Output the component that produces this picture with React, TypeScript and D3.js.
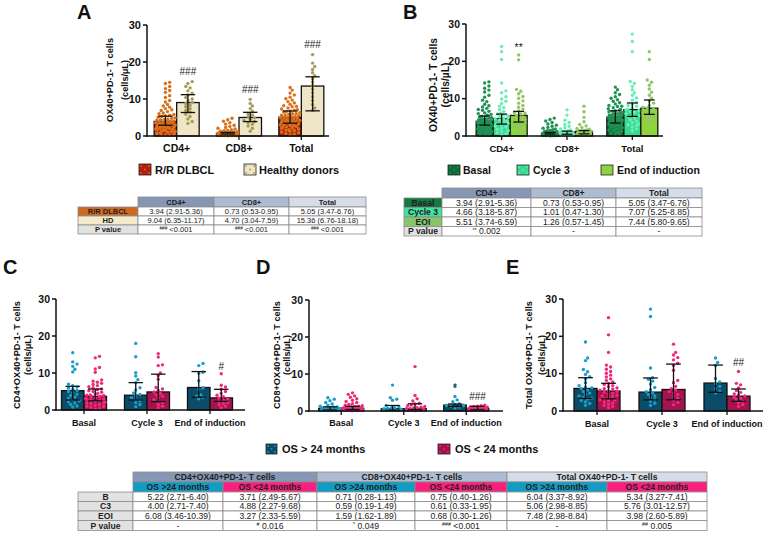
import React, { useEffect } from "react";
import * as d3 from "d3";

const FONT = "'Liberation Sans', Arial, Helvetica, sans-serif";

// ---------- Panel A data ----------
const A_CATS = ["CD4+", "CD8+", "Total"];
const A_NAMES = ["R/R DLBCL", "Healthy donors"];
const A_RR_MED = [3.94, 0.73, 5.05];
const A_RR_LO = [2.91, 0.53, 3.47];
const A_RR_HI = [5.36, 0.95, 6.76];
const A_HD_MED = [9.04, 5.0, 13.5];
const A_HD_LO = [6.35, 3.9, 6.8];
const A_HD_HI = [11.17, 6.4, 16.0];
const A_RR_CD4 = [14.5, 14.2, 13.4, 12.8, 12.3, 11.8, 10.9, 10.4, 9.6, 9.2, 8.5, 8.1, 7.8, 7.4, 7.1, 6.9, 6.6, 6.2, 6.0, 5.8, 5.6, 5.3, 5.1, 4.9, 4.8, 4.6, 4.4, 4.3, 4.1, 3.9, 3.8, 3.7, 3.5, 3.4, 3.3, 3.1, 3.0, 2.9, 2.7, 2.6, 2.5, 2.4, 2.2, 2.1, 2.0, 1.9, 1.7, 1.6, 1.5, 1.4, 1.2, 1.1, 1.0, 0.9, 0.7, 0.6, 0.5, 0.4, 0.3, 0.2, 2.8, 3.6, 4.5, 1.8, 2.3, 0.8, 5.5, 3.2, 1.3, 4.0];
const A_HD_CD4 = [14.7, 14.2, 13.4, 13.0, 12.2, 11.6, 11.1, 10.4, 10.0, 9.6, 9.1, 8.8, 8.3, 7.9, 7.4, 6.9, 6.5, 5.9, 5.3, 4.6, 3.9, 3.4];
const A_RR_CD8 = [4.8, 4.4, 4.0, 3.6, 3.2, 2.9, 2.6, 2.3, 2.1, 1.9, 1.7, 1.5, 1.4, 1.3, 1.2, 1.1, 1.0, 0.95, 0.9, 0.85, 0.8, 0.75, 0.7, 0.7, 0.65, 0.6, 0.6, 0.55, 0.5, 0.5, 0.45, 0.4, 0.4, 0.35, 0.3, 0.3, 0.25, 0.2, 0.2, 0.15, 0.1, 0.1, 0.05, 0.6, 0.4, 0.3, 0.8, 0.2, 0.5, 0.7, 0.1, 0.3, 0.45, 0.55, 0.35, 0.25, 0.15, 0.9, 1.05, 0.65];
const A_HD_CD8 = [9.9, 8.8, 8.1, 7.4, 6.7, 6.1, 5.7, 5.2, 4.9, 4.5, 4.2, 3.9, 3.6, 3.2, 2.7, 2.1, 1.3];
const A_RR_TOT = [13.1, 12.4, 11.6, 11.1, 10.5, 10.1, 9.7, 9.3, 8.9, 8.6, 8.2, 7.9, 7.6, 7.3, 7.0, 6.8, 6.5, 6.3, 6.1, 5.9, 5.7, 5.5, 5.3, 5.1, 5.0, 4.8, 4.7, 4.5, 4.3, 4.2, 4.0, 3.9, 3.7, 3.6, 3.4, 3.3, 3.1, 3.0, 2.8, 2.6, 2.5, 2.3, 2.1, 1.9, 1.7, 1.5, 1.3, 1.1, 0.9, 0.7, 0.5, 0.3, 5.2, 4.4, 3.8, 6.0, 2.9, 7.1, 4.9, 5.6, 3.5, 2.2, 8.0, 6.6, 4.1, 1.6];
const A_HD_TOT = [22.0, 19.7, 18.8, 18.0, 17.1, 16.3, 15.5, 14.6, 13.7, 12.7, 11.7, 10.6, 9.6, 8.5, 7.6, 6.9];

// ---------- Panel B data ----------
const B_NAMES = ["Basal", "Cycle 3", "End of induction"];
const B_BAS_MED = [3.94, 0.73, 5.05];
const B_BAS_LO = [2.91, 0.53, 3.47];
const B_BAS_HI = [5.36, 0.95, 6.76];
const B_C3_MED = [4.66, 1.01, 7.07];
const B_C3_LO = [3.18, 0.47, 5.25];
const B_C3_HI = [5.87, 1.30, 8.85];
const B_EOI_MED = [5.51, 1.26, 7.44];
const B_EOI_LO = [3.74, 0.57, 5.80];
const B_EOI_HI = [6.59, 1.45, 9.65];
const B_C3_CD4 = [24.0, 22.6, 20.5, 14.2, 12.1, 11.6, 10.5, 9.9, 9.3, 8.7, 8.0, 7.6, 7.1, 6.6, 6.2, 5.9, 5.6, 5.2, 4.9, 4.6, 4.3, 4.0, 3.8, 3.5, 3.2, 3.0, 2.7, 2.4, 2.1, 1.8, 1.5, 1.2, 0.9, 0.6, 4.7, 3.4, 2.6, 5.4, 1.4, 0.3];
const B_EOI_CD4 = [21.7, 20.4, 12.5, 12.0, 11.3, 10.6, 10.1, 9.4, 8.8, 8.2, 7.7, 7.2, 6.7, 6.3, 5.9, 5.5, 5.1, 4.8, 4.4, 4.0, 3.7, 3.4, 3.1, 2.8, 2.4, 2.0, 1.6, 1.0, 6.1, 3.9];
const B_C3_CD8 = [7.0, 5.6, 4.2, 3.6, 3.1, 2.6, 2.2, 1.9, 1.6, 1.4, 1.2, 1.0, 0.9, 0.8, 0.7, 0.6, 0.5, 0.45, 0.4, 0.35, 0.3, 0.25, 0.2, 0.15, 0.1, 0.5, 0.3, 0.7, 1.1, 0.2];
const B_EOI_CD8 = [8.0, 6.5, 5.0, 3.8, 3.1, 2.7, 2.3, 2.0, 1.8, 1.6, 1.5, 1.4, 1.3, 1.2, 1.1, 1.0, 0.9, 0.8, 0.7, 0.6, 0.5, 0.4, 0.3, 1.25, 1.35];
const B_C3_TOT = [27.3, 25.3, 22.6, 14.6, 14.1, 13.3, 12.4, 11.6, 10.9, 10.2, 9.6, 9.0, 8.5, 8.0, 7.6, 7.2, 6.8, 6.4, 6.0, 5.6, 5.2, 4.8, 4.4, 4.0, 3.6, 3.2, 2.8, 2.4, 1.9, 1.4, 7.0, 5.4, 8.2, 3.0, 6.6];
const B_EOI_TOT = [22.6, 20.5, 15.0, 14.4, 13.6, 12.6, 11.7, 10.9, 10.1, 9.4, 8.8, 8.2, 7.7, 7.2, 6.8, 6.3, 5.8, 5.3, 4.8, 4.3, 3.8, 3.3, 7.5, 6.0, 4.5];

// ---------- Panels C/D/E data ----------
const OS_CATS = ["Basal", "Cycle 3", "End of induction"];
const OS_NAMES = ["OS > 24 months", "OS < 24 months"];
const C_HI_MED = [5.22, 4.00, 6.08];
const C_HI_LO = [2.71, 2.71, 3.46];
const C_HI_HI = [6.40, 7.40, 10.39];
const C_LO_MED = [3.71, 4.88, 3.27];
const C_LO_LO = [2.49, 2.27, 2.33];
const C_LO_HI = [5.67, 9.68, 5.59];
const D_HI_MED = [0.71, 0.59, 1.59];
const D_HI_LO = [0.28, 0.19, 1.2];
const D_HI_HI = [1.13, 1.49, 1.89];
const D_LO_MED = [0.75, 0.61, 0.68];
const D_LO_LO = [0.40, 0.33, 0.30];
const D_LO_HI = [1.26, 1.95, 1.26];
const E_HI_MED = [6.04, 5.06, 7.48];
const E_HI_LO = [3.37, 2.98, 5.0];
const E_HI_HI = [8.92, 8.85, 12.3];
const E_LO_MED = [5.34, 5.76, 3.98];
const E_LO_LO = [3.27, 3.01, 2.60];
const E_LO_HI = [7.41, 12.57, 5.89];

const C_BAS_HI = [15.5, 13.0, 12.4, 11.8, 11.0, 10.3, 7.0, 6.6, 6.2, 5.9, 5.6, 5.3, 5.0, 4.7, 4.3, 3.9, 3.5, 3.1, 2.8, 2.5, 2.2, 1.9, 1.5, 1.1, 0.8];
const C_BAS_LO = [14.5, 14.1, 11.5, 11.1, 10.2, 8.1, 7.8, 7.5, 7.2, 6.9, 6.6, 6.3, 6.0, 5.7, 5.5, 5.2, 5.0, 4.8, 4.5, 4.3, 4.1, 3.9, 3.7, 3.5, 3.3, 3.1, 2.9, 2.7, 2.5, 2.3, 2.1, 1.9, 1.7, 1.5, 1.3, 1.1, 0.9, 0.7, 0.5, 0.3, 3.0, 2.0, 4.0, 1.0, 3.6];
const C_C3_HI = [18.0, 14.4, 10.1, 9.2, 8.2, 7.4, 6.0, 5.4, 4.6, 4.2, 3.8, 3.3, 2.9, 2.5, 2.0, 1.5, 0.9];
const C_C3_LO = [15.2, 14.3, 12.2, 12.0, 10.0, 9.3, 8.3, 6.1, 5.7, 5.3, 4.9, 4.5, 4.1, 3.7, 3.3, 2.8, 2.4, 2.0, 1.5, 1.0, 0.6];
const C_EOI_HI = [12.6, 12.0, 10.2, 9.9, 7.9, 6.0, 5.6, 4.1, 3.7, 3.4, 3.0];
const C_EOI_LO = [9.8, 6.7, 6.2, 5.6, 5.0, 4.5, 4.0, 3.6, 3.2, 2.9, 2.6, 2.3, 2.0, 1.7, 1.4, 1.0, 0.6];
const D_BAS_HI = [3.6, 3.2, 2.8, 2.3, 1.9, 1.6, 1.3, 1.1, 0.9, 0.8, 0.7, 0.6, 0.5, 0.4, 0.35, 0.3, 0.25, 0.2, 0.15, 0.1, 0.5, 0.6, 0.3, 1.0];
const D_BAS_LO = [4.9, 4.5, 4.1, 3.7, 3.3, 2.9, 2.6, 2.3, 2.0, 1.8, 1.6, 1.4, 1.3, 1.2, 1.1, 1.0, 0.9, 0.85, 0.8, 0.75, 0.7, 0.65, 0.6, 0.55, 0.5, 0.45, 0.4, 0.35, 0.3, 0.25, 0.2, 0.15, 0.1, 0.6, 0.4, 0.7, 0.3, 0.5, 0.2, 0.9];
const D_C3_HI = [7.0, 3.6, 3.2, 2.9, 1.5, 1.2, 0.9, 0.7, 0.5, 0.4, 0.3, 0.2, 0.15, 0.1, 0.6, 0.8];
const D_C3_LO = [12.0, 4.2, 3.3, 2.7, 2.1, 1.9, 1.6, 1.4, 1.2, 1.0, 0.9, 0.8, 0.7, 0.6, 0.5, 0.4, 0.3, 0.2, 0.1, 0.5];
const D_EOI_HI = [6.6, 3.9, 3.0, 2.5, 2.0, 1.8, 1.6, 1.5, 1.4, 1.3, 1.0, 0.8];
const D_EOI_LO = [1.6, 1.4, 1.3, 1.2, 1.1, 1.0, 0.9, 0.8, 0.7, 0.6, 0.5, 0.4, 0.3, 0.2, 0.7, 0.6, 0.5];
const E_BAS_HI = [18.5, 14.2, 13.5, 11.1, 10.5, 9.8, 9.2, 8.6, 7.6, 6.8, 6.4, 6.0, 5.6, 5.2, 4.8, 4.4, 4.0, 3.6, 3.2, 2.8, 2.4, 2.0, 1.5, 6.2, 3.4];
const E_BAS_LO = [25.0, 20.4, 15.7, 12.3, 11.8, 11.2, 10.6, 10.1, 9.6, 9.1, 8.6, 8.2, 7.8, 7.4, 7.1, 6.8, 6.5, 6.2, 5.9, 5.6, 5.3, 5.0, 4.8, 4.5, 4.2, 3.9, 3.6, 3.3, 3.0, 2.7, 2.4, 2.1, 1.8, 1.5, 1.2, 0.9, 5.4, 4.0, 6.0, 2.9];
const E_C3_HI = [27.3, 25.3, 11.5, 8.9, 8.5, 8.0, 7.2, 6.3, 5.7, 5.2, 4.8, 4.4, 4.0, 3.6, 3.1, 2.6, 2.1, 1.5];
const E_C3_LO = [17.9, 15.7, 15.0, 14.3, 13.7, 12.8, 12.2, 10.9, 8.2, 7.6, 6.6, 6.0, 5.6, 5.2, 4.8, 4.4, 3.9, 3.4, 2.9, 2.3, 1.7];
const E_EOI_HI = [14.2, 13.0, 12.2, 8.7, 7.8, 7.3, 6.6, 6.0, 5.3, 4.8];
const E_EOI_LO = [10.6, 7.4, 7.0, 6.2, 5.5, 5.0, 4.6, 4.3, 4.0, 3.7, 3.4, 3.0, 2.6, 2.2, 1.7, 1.2];

const Y_TICKS = [0, 10, 20, 30];

// ---------- Table data ----------
const TA_HEAD = ["CD4+", "CD8+", "Total"];
const TA_ROWS = ["R/R DLBCL", "HD", "P value"];
const TA_CELLS = [
  ["3.94 (2.91-5.36)", "0.73 (0.53-0.95)", "5.05 (3.47-6.76)"],
  ["9.04 (6.35-11.17)", "4.70 (3.04-7.59)", "15.36 (6.76-18.18)"],
  ["### <0.001", "### <0.001", "### <0.001"],
];
const TB_HEAD = ["CD4+", "CD8+", "Total"];
const TB_ROWS = ["Basal", "Cycle 3", "EOI", "P value"];
const TB_CELLS = [
  ["3.94 (2.91-5.36)", "0.73 (0.53-0.95)", "5.05 (3.47-6.76)"],
  ["4.66 (3.18-5.87)", "1.01 (0.47-1.30)", "7.07 (5.25-8.85)"],
  ["5.51 (3.74-6.59)", "1.26 (0.57-1.45)", "7.44 (5.80-9.65)"],
  ["** 0.002", "-", "-"],
];
const TC_HEAD1 = ["CD4+OX40+PD-1- T cells", "CD8+OX40+PD-1- T cells", "Total OX40+PD-1- T cells"];
const TC_HEAD2 = ["OS >24 months", "OS <24 months"];
const TC_ROWS = ["B", "C3", "EOI", "P value"];
const TC_CELLS = [
  ["5.22 (2.71-6.40)", "3.71 (2.49-5.67)", "0.71 (0.28-1.13)", "0.75 (0.40-1.26)", "6.04 (3.37-8.92)", "5.34 (3.27-7.41)"],
  ["4.00 (2.71-7.40)", "4.88 (2.27-9.68)", "0.59 (0.19-1.49)", "0.61 (0.33-1.95)", "5.06 (2.98-8.85)", "5.76 (3.01-12.57)"],
  ["6.08 (3.46-10.39)", "3.27 (2.33-5.59)", "1.59 (1.62-1.89)", "0.68 (0.30-1.26)", "7.48 (2.98-8.84)", "3.98 (2.60-5.89)"],
  ["-", "# 0.016", "* 0.049", "### <0.001", "-", "## 0.005"],
];

// ---------- colours ----------
const COL = {
  rr: "#b3200e", rrDot: "#d8701c",
  hd: "#eee6c6", hdDot: "#a89a55",
  bas: "#0c6b39", basDot: "#1f9152",
  c3: "#38d893", c3Dot: "#68eeb6",
  eoi: "#8ed53c", eoiDot: "#93c662",
  hi: "#0b4d68", hiDot: "#1b9dc6",
  lo: "#a3134f", loDot: "#ee2a7b",
};

type Series = { fill: string; dot: string; med: number[]; lo: number[]; hi: number[]; pts: number[][] };
type Note = { ci: number; si: number; text: string; y: number; size: number };
type Cfg = {
  axisX: number; y0: number; y30: number; xEnd: number; band: [number, number]; barW: number;
  cats: string[]; series: Series[]; tickFont: number; catFont: number; catY: number;
  title: string[]; titleX: number[]; titleY: number; titleFont: number; notes: Note[];
};

const DOT_R = 1.7;

function swarm(vals: number[], y: (v: number) => number, cx: number, half: number, r: number) {
  const items = vals.map((v) => ({ v, py: y(v) })).sort((a, b) => b.py - a.py);
  const placed: { x: number; y: number }[] = [];
  const step = r * 1.25;
  const minD = r * 1.9;
  items.forEach((it, i) => {
    let px: number | null = null;
    const maxK = Math.floor(half / step);
    for (let k = 0; k <= maxK * 2; k++) {
      const off = (k % 2 === 1 ? 1 : -1) * Math.ceil(k / 2) * step;
      const x = cx + off;
      if (placed.every((q) => (q.x - x) ** 2 + (q.y - it.py) ** 2 >= minD * minD)) { px = x; break; }
    }
    if (px === null) {
      const f = ((i * 37) % 17) / 16;
      px = cx - half + f * 2 * half;
    }
    placed.push({ x: px, y: it.py });
  });
  return placed;
}

function BarPanel({ cfg }: { cfg: Cfg }) {
  const y = d3.scaleLinear().domain([0, 30]).range([cfg.y0, cfg.y30]);
  const xb = d3.scaleBand<string>().domain(cfg.cats).range(cfg.band);
  const cx = (ci: number) => (xb(cfg.cats[ci]) ?? 0) + xb.bandwidth() / 2;
  const n = cfg.series.length;
  const off = (si: number) => (si - (n - 1) / 2) * cfg.barW;
  const bw = cfg.barW;
  const cap = bw * 0.32;
  return (
    <g fontFamily={FONT}>
      {cfg.series.map((s, si) =>
        cfg.cats.map((c, ci) => {
          const bx = cx(ci) + off(si);
          return (
            <rect key={`b${si}-${ci}`} x={bx - bw / 2} y={y(s.med[ci])} width={bw}
              height={cfg.y0 - y(s.med[ci])} fill={s.fill} stroke="#111" strokeWidth={1.3} />
          );
        })
      )}
      {cfg.series.map((s, si) =>
        cfg.cats.map((c, ci) => {
          const bx = cx(ci) + off(si);
          const pts = swarm(s.pts[ci], y, bx, bw / 2 - 1.5, DOT_R);
          return pts.map((p, k) => (
            <circle key={`d${si}-${ci}-${k}`} cx={p.x} cy={p.y} r={DOT_R} fill={s.dot} />
          ));
        })
      )}
      {cfg.series.map((s, si) =>
        cfg.cats.map((c, ci) => {
          const bx = cx(ci) + off(si);
          const yl = y(s.lo[ci]);
          const yh = y(s.hi[ci]);
          return (
            <g key={`e${si}-${ci}`} stroke="#111" strokeWidth={1.3}>
              <line x1={bx} x2={bx} y1={yl} y2={yh} />
              <line x1={bx - cap} x2={bx + cap} y1={yh} y2={yh} />
              <line x1={bx - cap} x2={bx + cap} y1={yl} y2={yl} />
            </g>
          );
        })
      )}
      {/* axes */}
      <line x1={cfg.axisX} x2={cfg.axisX} y1={cfg.y0 + 0.7} y2={y(30)} stroke="#111" strokeWidth={1.5} />
      <line x1={cfg.axisX - 0.7} x2={cfg.xEnd} y1={cfg.y0} y2={cfg.y0} stroke="#111" strokeWidth={1.5} />
      {Y_TICKS.map((t) => (
        <g key={`t${t}`}>
          <line x1={cfg.axisX - 4} x2={cfg.axisX} y1={y(t)} y2={y(t)} stroke="#111" strokeWidth={1.5} />
          <text x={cfg.axisX - 6} y={y(t)} dy="0.36em" textAnchor="end" fontSize={cfg.tickFont} fontWeight="bold" fill="#111">{t}</text>
        </g>
      ))}
      {cfg.cats.map((c, ci) => (
        <g key={`c${ci}`}>
          <line x1={cx(ci)} x2={cx(ci)} y1={cfg.y0} y2={cfg.y0 + 4} stroke="#111" strokeWidth={1.3} />
          <text x={cx(ci)} y={cfg.catY} textAnchor="middle" fontSize={cfg.catFont} fontWeight="bold" fill="#111">{c}</text>
        </g>
      ))}
      {cfg.title.map((t, i) => (
        <text key={`ti${i}`} transform={`translate(${cfg.titleX[i]},${cfg.titleY}) rotate(-90)`}
          textAnchor="middle" dy="0.35em" fontSize={cfg.titleFont} fontWeight="bold" fill="#111">{t}</text>
      ))}
      {cfg.notes.map((nt, i) => (
        <text key={`n${i}`} x={cx(nt.ci) + off(nt.si)} y={nt.y} textAnchor="middle" fontSize={nt.size} fill="#222">{nt.text}</text>
      ))}
    </g>
  );
}

function Swatch({ x, y, w, h, fill, dot }: { x: number; y: number; w: number; h: number; fill: string; dot: string }) {
  const ds: [number, number][] = [];
  for (let i = 0; i < 3; i++) for (let j = 0; j < 3; j++) ds.push([x + 2 + i * (w - 4) / 2, y + 2 + j * (h - 4) / 2]);
  return (
    <g>
      <rect x={x} y={y} width={w} height={h} fill={fill} stroke="#222" strokeWidth={0.8} />
      {ds.map((d, k) => ((k % 2 === 0) ? <rect key={k} x={d[0] - 0.8} y={d[1] - 0.8} width={1.6} height={1.6} fill={dot} /> : null))}
    </g>
  );
}

function CellText({ x, y, text, size, bold }: { x: number; y: number; text: string; size: number; bold?: boolean }) {
  const m = text.match(/^([#*]+) (.*)$/);
  if (m) {
    return (
      <text x={x} y={y} textAnchor="middle" fontSize={size} fontWeight={bold ? "bold" : "normal"} fill="#222">
        <tspan fontSize={size * 0.62} dy={-size * 0.25}>{m[1]}</tspan>
        <tspan dy={size * 0.25}>{" " + m[2]}</tspan>
      </text>
    );
  }
  return <text x={x} y={y} textAnchor="middle" fontSize={size} fontWeight={bold ? "bold" : "normal"} fill="#222">{text}</text>;
}

function Cell({ x0, x1, y0, y1, text, fill, bold, size }: { x0: number; x1: number; y0: number; y1: number; text: string; fill: string; bold?: boolean; size: number }) {
  return (
    <g>
      <rect x={x0} y={y0} width={x1 - x0} height={y1 - y0} fill={fill} stroke="#8c8c8c" strokeWidth={0.8} />
      <CellText x={(x0 + x1) / 2} y={(y0 + y1) / 2 + size * 0.36} text={text} size={size} bold={bold} />
    </g>
  );
}

const TA_HEAD_FILL = ["#8597b4", "#aebcd1", "#d6dde8"];
const TA_ROW_FILL = ["#cf6a20", "#f3ebcb", "#e2e2e2"];
const TB_ROW_FILL = ["#127a40", "#45e0a0", "#86c66a", "#e2e2e2"];
const OS_HEAD_FILL = ["#0f9dc5", "#fd1f7d"];

function SimpleTable({ cols, rows, head, rowLabels, rowFill, cells, size }: any) {
  const out: any[] = [];
  head.forEach((h: string, j: number) => {
    out.push(<Cell key={`h${j}`} x0={cols[j + 1]} x1={cols[j + 2]} y0={rows[0]} y1={rows[1]} text={h} fill={TA_HEAD_FILL[j]} bold size={size} />);
  });
  rowLabels.forEach((r: string, i: number) => {
    out.push(<Cell key={`r${i}`} x0={cols[0]} x1={cols[1]} y0={rows[i + 1]} y1={rows[i + 2]} text={r} fill={rowFill[i]} bold size={size} />);
    cells[i].forEach((t: string, j: number) => {
      out.push(<Cell key={`c${i}-${j}`} x0={cols[j + 1]} x1={cols[j + 2]} y0={rows[i + 1]} y1={rows[i + 2]} text={t} fill="#fff" size={size} />);
    });
  });
  return <g fontFamily={FONT}>{out}</g>;
}

function OSTable() {
  const cols = [78, 133, 223, 317, 415, 507, 607, 707];
  const rows = [472, 482, 492, 501.5, 511, 520.5, 530.5];
  const size = 8.6;
  const out: any[] = [];
  TC_HEAD1.forEach((h, g) => {
    out.push(<Cell key={`h1${g}`} x0={cols[1 + g * 2]} x1={cols[3 + g * 2]} y0={rows[0]} y1={rows[1]} text={h} fill={TA_HEAD_FILL[g]} bold size={size} />);
    TC_HEAD2.forEach((s, k) => {
      out.push(<Cell key={`h2${g}${k}`} x0={cols[1 + g * 2 + k]} x1={cols[2 + g * 2 + k]} y0={rows[1]} y1={rows[2]} text={s} fill={OS_HEAD_FILL[k]} bold size={size} />);
    });
  });
  TC_ROWS.forEach((r, i) => {
    out.push(<Cell key={`r${i}`} x0={cols[0]} x1={cols[1]} y0={rows[i + 2]} y1={rows[i + 3]} text={r} fill="#e2e2e2" bold size={size} />);
    TC_CELLS[i].forEach((t, j) => {
      out.push(<Cell key={`c${i}-${j}`} x0={cols[j + 1]} x1={cols[j + 2]} y0={rows[i + 2]} y1={rows[i + 3]} text={t} fill="#fff" size={size} />);
    });
  });
  return <g fontFamily={FONT}>{out}</g>;
}

const cfgA: Cfg = {
  axisX: 147, y0: 136, y30: 25, xEnd: 329, band: [145.5, 332.5], barW: 22.5, cats: A_CATS,
  series: [
    { fill: COL.rr, dot: COL.rrDot, med: A_RR_MED, lo: A_RR_LO, hi: A_RR_HI, pts: [A_RR_CD4, A_RR_CD8, A_RR_TOT] },
    { fill: COL.hd, dot: COL.hdDot, med: A_HD_MED, lo: A_HD_LO, hi: A_HD_HI, pts: [A_HD_CD4, A_HD_CD8, A_HD_TOT] },
  ],
  tickFont: 11, catFont: 10.5, catY: 152,
  title: ["OX40+PD-1- T cells", "(cells/µL)"], titleX: [110, 125], titleY: 80, titleFont: 9.2,
  notes: [
    { ci: 0, si: 1, text: "###", y: 75, size: 10 },
    { ci: 1, si: 1, text: "###", y: 93, size: 10 },
    { ci: 2, si: 1, text: "###", y: 48, size: 10 },
  ],
};

const cfgB: Cfg = {
  axisX: 466, y0: 136, y30: 24, xEnd: 663, band: [469, 665], barW: 17, cats: A_CATS,
  series: [
    { fill: COL.bas, dot: COL.basDot, med: B_BAS_MED, lo: B_BAS_LO, hi: B_BAS_HI, pts: [A_RR_CD4, A_RR_CD8, A_RR_TOT] },
    { fill: COL.c3, dot: COL.c3Dot, med: B_C3_MED, lo: B_C3_LO, hi: B_C3_HI, pts: [B_C3_CD4, B_C3_CD8, B_C3_TOT] },
    { fill: COL.eoi, dot: COL.eoiDot, med: B_EOI_MED, lo: B_EOI_LO, hi: B_EOI_HI, pts: [B_EOI_CD4, B_EOI_CD8, B_EOI_TOT] },
  ],
  tickFont: 10.5, catFont: 9.5, catY: 152,
  title: ["OX40+PD-1- T cells", "(cells/µL)"], titleX: [433, 445.5], titleY: 85, titleFont: 10.3,
  notes: [{ ci: 0, si: 2, text: "**", y: 51, size: 10.5 }],
};

const osSeries = (hm: number[], hl: number[], hh: number[], lm: number[], ll: number[], lh: number[], hp: number[][], lp: number[][]): Series[] => [
  { fill: COL.hi, dot: COL.hiDot, med: hm, lo: hl, hi: hh, pts: hp },
  { fill: COL.lo, dot: COL.loDot, med: lm, lo: ll, hi: lh, pts: lp },
];

const cfgC: Cfg = {
  axisX: 56, y0: 410, y30: 299, xEnd: 245, band: [52.5, 241.5], barW: 22.5, cats: OS_CATS,
  series: osSeries(C_HI_MED, C_HI_LO, C_HI_HI, C_LO_MED, C_LO_LO, C_LO_HI,
    [C_BAS_HI, C_C3_HI, C_EOI_HI], [C_BAS_LO, C_C3_LO, C_EOI_LO]),
  tickFont: 10.5, catFont: 9, catY: 426,
  title: ["CD4+OX40+PD-1- T cells", "(cells/µL)"], titleX: [17, 27.5], titleY: 355, titleFont: 9.2,
  notes: [{ ci: 2, si: 1, text: "#", y: 369.5, size: 10 }],
};

const cfgD: Cfg = {
  axisX: 309, y0: 411, y30: 300, xEnd: 503, band: [310, 497.5], barW: 22.5, cats: OS_CATS,
  series: osSeries(D_HI_MED, D_HI_LO, D_HI_HI, D_LO_MED, D_LO_LO, D_LO_HI,
    [D_BAS_HI, D_C3_HI, D_EOI_HI], [D_BAS_LO, D_C3_LO, D_EOI_LO]),
  tickFont: 10.5, catFont: 9, catY: 426,
  title: ["CD8+OX40+PD-1- T cells", "(cells/µL)"], titleX: [276.5, 287], titleY: 355, titleFont: 9.2,
  notes: [
    { ci: 2, si: 0, text: "*", y: 391, size: 10 },
    { ci: 2, si: 1, text: "###", y: 399.5, size: 10 },
  ],
};

const cfgE: Cfg = {
  axisX: 563, y0: 411, y30: 299, xEnd: 763, band: [564.5, 759.5], barW: 23, cats: OS_CATS,
  series: osSeries(E_HI_MED, E_HI_LO, E_HI_HI, E_LO_MED, E_LO_LO, E_LO_HI,
    [E_BAS_HI, E_C3_HI, E_EOI_HI], [E_BAS_LO, E_C3_LO, E_EOI_LO]),
  tickFont: 10.5, catFont: 9, catY: 427,
  title: ["Total OX40+PD-1- T cells", "(cells/µL)"], titleX: [529, 541.5], titleY: 355, titleFont: 9.2,
  notes: [{ ci: 2, si: 1, text: "##", y: 366, size: 10 }],
};

const LETTERS = [
  { t: "A", x: 77, y: 19 },
  { t: "B", x: 403, y: 19 },
  { t: "C", x: 3, y: 274 },
  { t: "D", x: 256, y: 274 },
  { t: "E", x: 506, y: 274 },
];

export default function App() {
  useEffect(() => {
    document.body.style.margin = "0";
  }, []);
  return (
    <svg width={765} height={537} viewBox="0 0 765 537" style={{ position: "absolute", left: 0, top: 0, background: "#fff" }}
      xmlns="http://www.w3.org/2000/svg">
      <rect x={0} y={0} width={765} height={537} fill="#fff" />
      {LETTERS.map((l) => (
        <text key={l.t} x={l.x} y={l.y} fontFamily={FONT} fontWeight="bold" fontSize={20} fill="#111">{l.t}</text>
      ))}
      <BarPanel cfg={cfgA} />
      <BarPanel cfg={cfgB} />
      <BarPanel cfg={cfgC} />
      <BarPanel cfg={cfgD} />
      <BarPanel cfg={cfgE} />

      {/* Legend A */}
      <g fontFamily={FONT} fontWeight="bold" fontSize={11} fill="#111">
        <Swatch x={139} y={164} w={12} h={11} fill={COL.rr} dot={COL.rrDot} />
        <text x={155} y={173.5}>{A_NAMES[0]}</text>
        <Swatch x={244} y={164} w={12} h={11} fill={COL.hd} dot={COL.hdDot} />
        <text x={259} y={173.5}>{A_NAMES[1]}</text>
      </g>
      {/* Legend B */}
      <g fontFamily={FONT} fontWeight="bold" fontSize={10.5} fill="#111">
        <Swatch x={448} y={165} w={12} h={10} fill={COL.bas} dot={COL.basDot} />
        <text x={463} y={173.5}>{B_NAMES[0]}</text>
        <Swatch x={517} y={165} w={12} h={10} fill={COL.c3} dot={COL.c3Dot} />
        <text x={533} y={173.5}>{B_NAMES[1]}</text>
        <Swatch x={601} y={165} w={12} h={10} fill={COL.eoi} dot={COL.eoiDot} />
        <text x={617} y={173.5}>{B_NAMES[2]}</text>
      </g>
      {/* Legend OS */}
      <g fontFamily={FONT} fontWeight="bold" fontSize={11} fill="#111">
        <Swatch x={266} y={444} w={11} h={10} fill={COL.hi} dot={COL.hiDot} />
        <text x={282} y={453}>{OS_NAMES[0]}</text>
        <Swatch x={438} y={444} w={12} h={10} fill={COL.lo} dot={COL.loDot} />
        <text x={455} y={453}>{OS_NAMES[1]}</text>
      </g>

      <SimpleTable cols={[78, 138, 214, 289, 366]} rows={[197, 207, 216, 225, 234]} head={TA_HEAD}
        rowLabels={TA_ROWS} rowFill={TA_ROW_FILL} cells={TA_CELLS} size={7.5} />
      <SimpleTable cols={[404, 442, 531, 616, 702]} rows={[188, 198, 207.5, 217, 226.5, 236]} head={TB_HEAD}
        rowLabels={TB_ROWS} rowFill={TB_ROW_FILL} cells={TB_CELLS} size={8.6} />
      <OSTable />
    </svg>
  );
}
